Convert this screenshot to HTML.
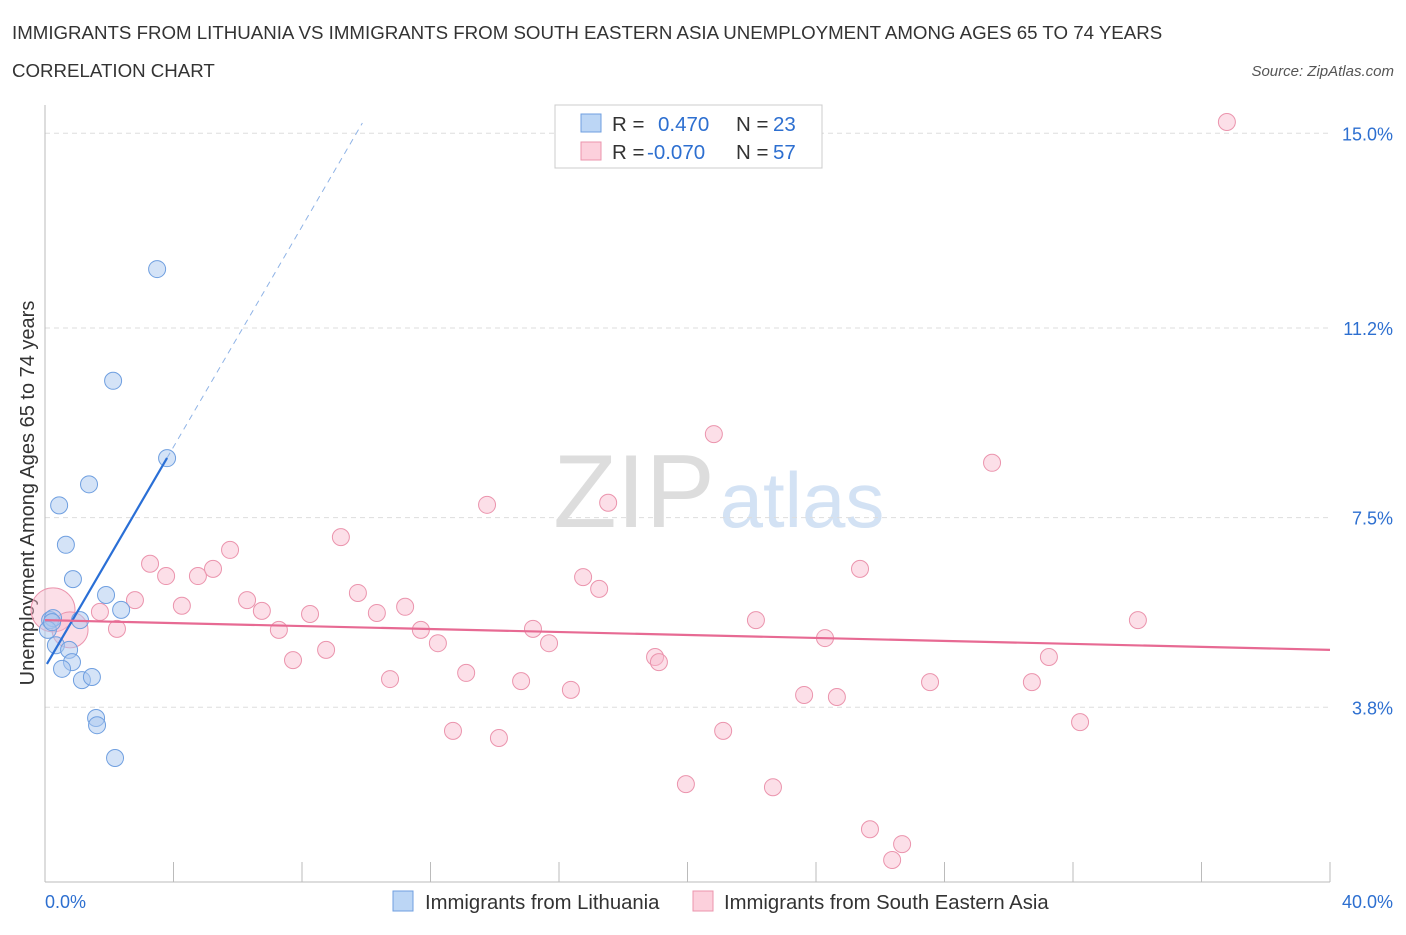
<!DOCTYPE html>
<html><head><meta charset="utf-8"><style>
body{margin:0;background:#fff;font-family:"Liberation Sans",sans-serif;}
svg text{font-family:"Liberation Sans",sans-serif;}
</style></head><body>
<svg id="c" width="1406" height="930" xmlns="http://www.w3.org/2000/svg">
<text x="12" y="39" font-size="18.7" fill="#333">IMMIGRANTS FROM LITHUANIA VS IMMIGRANTS FROM SOUTH EASTERN ASIA UNEMPLOYMENT AMONG AGES 65 TO 74 YEARS</text>
<text x="12" y="77" font-size="18.7" fill="#333">CORRELATION CHART</text>
<text x="1394" y="76" font-size="15" fill="#555" font-style="italic" text-anchor="end">Source: ZipAtlas.com</text>
<text x="634" y="527" font-size="104" fill="#ddd" font-family="Liberation Serif" text-anchor="middle">ZIP</text>
<text x="802" y="527" font-size="78" fill="#d3e2f4" text-anchor="middle">atlas</text>
<text transform="translate(34,493) rotate(-90)" font-size="20" fill="#333" text-anchor="middle">Unemployment Among Ages 65 to 74 years</text>
<g id="grid"></g><g id="marks"></g>
<g>
<rect x="555" y="105" width="267" height="63" fill="#fff" stroke="#ccc"/>
<rect x="581" y="114" width="20" height="18" fill="#bcd6f5" stroke="#6f9fe0"/>
<rect x="581" y="142" width="20" height="18" fill="#fcd0dc" stroke="#eb94ad"/>
<text x="612" y="131" font-size="20.5" fill="#333">R = </text><text x="658" y="131" font-size="20.5" fill="#2d6fd0">0.470</text>
<text x="736" y="131" font-size="20.5" fill="#333">N = </text><text x="773" y="131" font-size="20.5" fill="#2d6fd0">23</text>
<text x="612" y="159" font-size="20.5" fill="#333">R = </text><text x="647" y="159" font-size="20.5" fill="#2d6fd0">-0.070</text>
<text x="736" y="159" font-size="20.5" fill="#333">N = </text><text x="773" y="159" font-size="20.5" fill="#2d6fd0">57</text>
</g>
<g>
<rect x="393" y="891" width="20" height="20" fill="#bcd6f5" stroke="#6f9fe0"/>
<text x="425" y="909" font-size="20.3" fill="#333">Immigrants from Lithuania</text>
<rect x="693" y="891" width="20" height="20" fill="#fcd0dc" stroke="#eb94ad"/>
<text x="724" y="909" font-size="20.3" fill="#333">Immigrants from South Eastern Asia</text>
</g>
</svg>
<script>
const blueX=[3.49,2.12,3.80,1.37,0.44,0.65,0.87,1.90,2.37,1.09,0.16,0.25,0.09,0.34,0.75,0.84,0.53,1.15,1.46,1.59,1.62,2.18,0.22];
const blueY=[12.35,10.17,8.66,8.15,7.74,6.97,6.30,5.99,5.70,5.50,5.50,5.54,5.31,5.01,4.92,4.68,4.55,4.33,4.39,3.59,3.45,2.81,5.46];
const pinkX=[36.79,20.82,29.48,13.76,17.53,9.21,5.76,3.27,3.77,4.76,5.23,16.75,17.25,25.37,9.74,2.80,4.26,6.29,6.75,8.25,10.33,11.21,0.25,0.78,1.71,2.24,7.28,11.70,15.19,12.23,15.69,8.75,7.72,18.99,19.11,13.11,10.74,14.82,16.37,22.13,24.28,34.02,31.25,23.63,24.65,27.55,30.72,32.22,12.70,14.13,21.11,19.95,22.66,25.68,26.68,26.37];
const pinkY=[15.22,9.13,8.57,7.75,7.79,7.12,6.87,6.60,6.36,6.36,6.50,6.34,6.11,6.50,6.03,5.89,5.78,5.89,5.68,5.62,5.64,5.76,5.70,5.31,5.66,5.33,5.31,5.31,5.33,5.05,5.05,4.92,4.72,4.78,4.68,4.47,4.35,4.31,4.14,5.50,5.15,5.50,4.78,4.04,4.00,4.29,4.29,3.51,3.34,3.20,3.34,2.30,2.24,1.42,1.13,0.82];
const yTicks=[15.0,11.2,7.5,3.8];
const yTickLabels=["15.0%","11.2%","7.5%","3.8%"];
const xTicks=[0,4,8,12,16,20,24,28,32,36,40];
const blueTrend=[4.58,1.075];
const pinkTrend=[5.50,-0.0145];
const X=v=>45+v*32.125, Y=v=>902-v*51.25;
const NS="http://www.w3.org/2000/svg";
function mk(t,a,p){const e=document.createElementNS(NS,t);for(const k in a)e.setAttribute(k,a[k]);p.appendChild(e);return e;}
const g=document.getElementById('grid'), m=document.getElementById('marks');
yTicks.forEach((t,i)=>{
 const l=mk('line',{x1:45,x2:1330,y1:Y(t),y2:Y(t),stroke:'#ddd','stroke-dasharray':'5,4'},g);
 
 
 const tx=mk('text',{x:1393,y:Y(t)+7,'font-size':18,fill:'#2d6fd0','text-anchor':'end'},g);
 tx.textContent=yTickLabels[i];
 
 
});
const ax=mk('line',{x1:45,x2:1330,y1:882,y2:882,stroke:'#bbb'},g);


const ay=mk('line',{x1:45,x2:45,y1:105,y2:882,stroke:'#bbb'},g);


xTicks.forEach(t=>{
 const l=mk('line',{x1:X(t),x2:X(t),y1:862,y2:882,stroke:'#bbb'},g);
 
 
});
const xl0=mk('text',{x:45,y:908,'font-size':18,fill:'#2d6fd0'},g);xl0.textContent="0.0%";


const xl1=mk('text',{x:1393,y:908,'font-size':18,fill:'#2d6fd0','text-anchor':'end'},g);xl1.textContent="40.0%";


pinkX.forEach((x,i)=>{
 const r=(i==22)?22:(i==23)?18:8.5;
 const c=mk('circle',{cx:X(x),cy:Y(pinkY[i]),r:r,fill:'rgba(248,185,205,0.45)',stroke:'#eb94ad','stroke-width':1},m);
 
 
});
blueX.forEach((x,i)=>{
 const c=mk('circle',{cx:X(x),cy:Y(blueY[i]),r:8.5,fill:'rgba(170,200,240,0.5)',stroke:'#6f9fe0','stroke-width':1},m);
 
 
});
const bx0=0.06,bx1=3.80,bx2=(15.2-blueTrend[0])/blueTrend[1];
const bl=mk('line',{x1:X(bx0),y1:Y(blueTrend[0]+blueTrend[1]*bx0),x2:X(bx1),y2:Y(blueTrend[0]+blueTrend[1]*bx1),stroke:'#2a6fd6','stroke-width':2.2},m);


const bd=mk('line',{x1:X(bx1),y1:Y(blueTrend[0]+blueTrend[1]*bx1),x2:X(bx2),y2:Y(15.2),stroke:'#8fb3e6','stroke-width':1,'stroke-dasharray':'6,5'},m);


const pl=mk('line',{x1:X(0),y1:Y(pinkTrend[0]),x2:X(40),y2:Y(pinkTrend[0]+pinkTrend[1]*40),stroke:'#e76a93','stroke-width':2.2},m);


</script>
</body></html>
